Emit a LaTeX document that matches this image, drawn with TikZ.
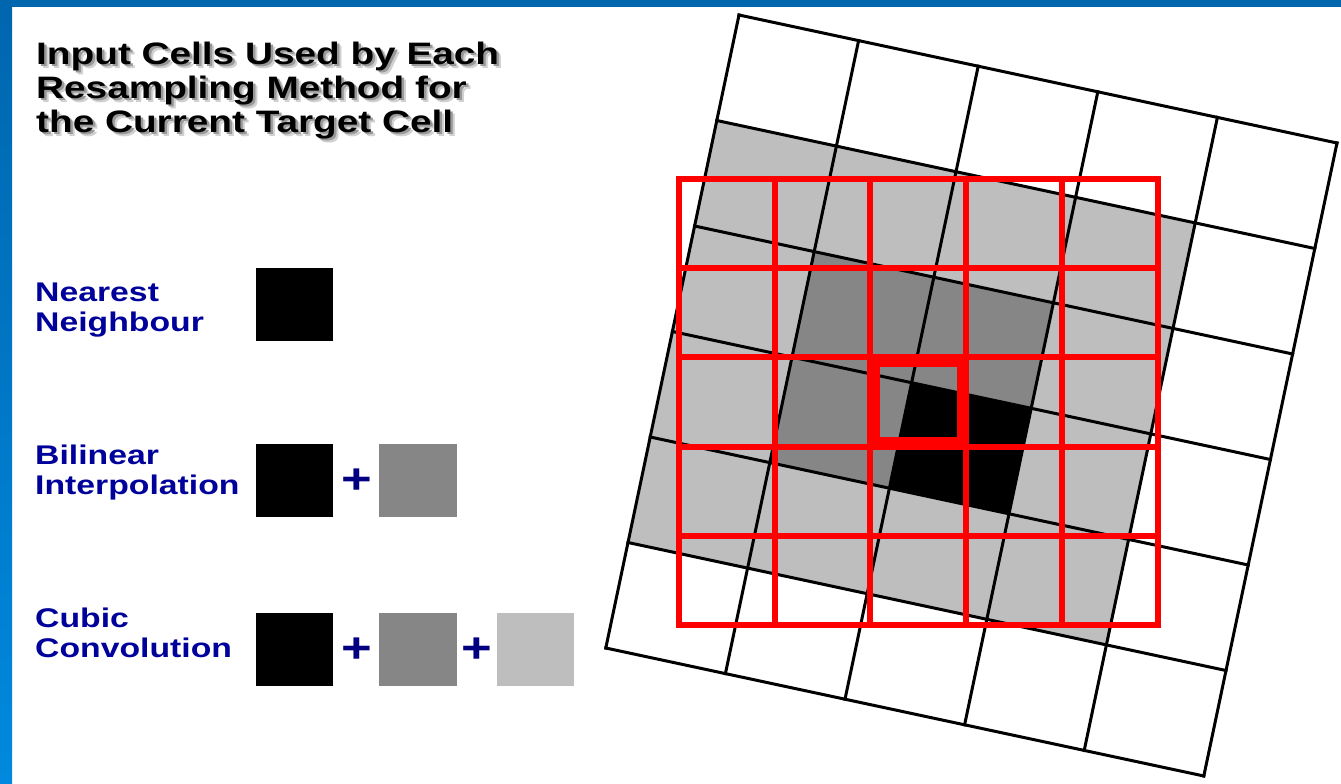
\documentclass[tikz,border=0pt]{standalone}
\usepackage{fontspec}
\newfontfamily\wfont[FakeStretch=1.25]{Liberation Sans}
\definecolor{lgray}{RGB}{190,190,190}
\definecolor{dgray}{RGB}{134,134,134}
\definecolor{bordtop}{RGB}{0,102,174}
\definecolor{bordbot}{RGB}{0,137,222}
\definecolor{lblue}{RGB}{0,0,155}
\definecolor{pblue}{RGB}{0,0,128}
\definecolor{redline}{RGB}{255,0,0}
\begin{document}
\begin{tikzpicture}[x=1pt,y=-1pt,
  titletext/.style={anchor=base west, inner sep=0pt, font=\wfont\bfseries\fontsize{31}{34}\selectfont},
  labeltext/.style={anchor=base west, inner sep=0pt, text=lblue, font=\wfont\bfseries\fontsize{27}{30}\selectfont},
  plussign/.style={inner sep=0pt, text=pblue, font=\wfont\bfseries\fontsize{42}{42}\selectfont},
  swatch/.style={anchor=north west, inner sep=0pt, outer sep=0pt, minimum width=77pt, minimum height=73pt},
  gridline/.style={black, line width=3pt, line cap=rect},
  redgrid/.style={redline, line width=6pt, line cap=rect}]
\useasboundingbox (0,0) rectangle (1341,784);
\fill[white] (0,0) rectangle (1341,784);
% border
\fill[bordtop] (0,0) rectangle (1341,7);
\shade[top color=bordtop, bottom color=bordbot] (0,0) rectangle (12,784);
% title with shadow
\foreach \t/\yy/\n in {{Input Cells Used by Each}/64/a,{Resampling Method for}/98/b,{the Current Target Cell}/132/c}{
  \node[titletext, text=black!18] (sh2\n) at (40.5,\yy+4.5) {\t};
  \node[titletext, text=black!40] (sh\n) at (38.5,\yy+2.5) {\t};
  \node[titletext, text=black] (ti\n) at (36,\yy) {\t};
}
% labels
\node[labeltext] (nn1) at (35,301.5) {Nearest};
\node[labeltext] (nn2) at (35,331.5) {Neighbour};
\node[labeltext] (bl1) at (35,464.3) {Bilinear};
\node[labeltext] (bl2) at (35,494.3) {Interpolation};
\node[labeltext] (cc1) at (35,627) {Cubic};
\node[labeltext] (cc2) at (35,657.5) {Convolution};
% swatches
\node[swatch, fill=black] (nnk) at (256,268) {};
\node[swatch, fill=black] (blk) at (256,444) {};
\node[plussign] (blp) at (356.5,481) {+};
\node[swatch, fill=dgray, minimum width=78pt] (bld) at (379,444) {};
\node[swatch, fill=black] (cck) at (256,613) {};
\node[plussign] (ccp1) at (356.5,650) {+};
\node[swatch, fill=dgray, minimum width=78pt] (ccd) at (379,613) {};
\node[plussign] (ccp2) at (477,650) {+};
\node[swatch, fill=lgray] (ccl) at (497,613) {};
% rotated input grid
\begin{scope}[shift={(739,15)}, x={(119.6pt,-25.6pt)}, y={(-22.2pt,-105.5pt)}]
  \fill[lgray] (0,1) -- (4,1) -- (4,5) -- (0,5) -- cycle;
  \fill[dgray] (1,2) -- (3,2) -- (3,4) -- (1,4) -- cycle;
  \fill[black] (2,3) -- (3,3) -- (3,4) -- (2,4) -- cycle;
  \foreach \i in {0,...,5} \draw[gridline] (\i,0) -- (\i,6);
  \foreach \j in {0,...,6} \draw[gridline] (0,\j) -- (5,\j);
\end{scope}
% red output grid
\foreach \xx in {679,774.7,870.4,966.1,1061.8,1157.5} \draw[redgrid] (\xx,179) -- (\xx,625);
\foreach \yy in {179,268.2,357.4,446.6,535.8,625} \draw[redgrid] (679,\yy) -- (1157.5,\yy);
% target cell
\draw[redline, line width=12.6pt] (873.7,360.7) rectangle (962.8,443.3);
\end{tikzpicture}
\end{document}
